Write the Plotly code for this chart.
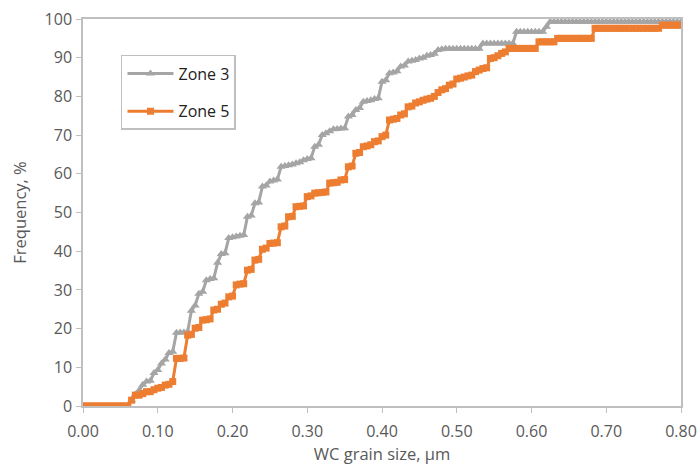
import plotly.graph_objects as go

GRAIN_SIZE = [
    0.000, 0.005, 0.010, 0.015, 0.020, 0.025, 0.030, 0.035, 0.040, 0.045,
    0.050, 0.055, 0.060, 0.065, 0.070, 0.075, 0.080, 0.085, 0.090, 0.095,
    0.100, 0.105, 0.110, 0.115, 0.120, 0.125, 0.130, 0.135, 0.140, 0.145,
    0.150, 0.155, 0.160, 0.165, 0.170, 0.175, 0.180, 0.185, 0.190, 0.195,
    0.200, 0.205, 0.210, 0.215, 0.220, 0.225, 0.230, 0.235, 0.240, 0.245,
    0.250, 0.255, 0.260, 0.265, 0.270, 0.275, 0.280, 0.285, 0.290, 0.295,
    0.300, 0.305, 0.310, 0.315, 0.320, 0.325, 0.330, 0.335, 0.340, 0.345,
    0.350, 0.355, 0.360, 0.365, 0.370, 0.375, 0.380, 0.385, 0.390, 0.395,
    0.400, 0.405, 0.410, 0.415, 0.420, 0.425, 0.430, 0.435, 0.440, 0.445,
    0.450, 0.455, 0.460, 0.465, 0.470, 0.475, 0.480, 0.485, 0.490, 0.495,
    0.500, 0.505, 0.510, 0.515, 0.520, 0.525, 0.530, 0.535, 0.540, 0.545,
    0.550, 0.555, 0.560, 0.565, 0.570, 0.575, 0.580, 0.585, 0.590, 0.595,
    0.600, 0.605, 0.610, 0.615, 0.620, 0.625, 0.630, 0.635, 0.640, 0.645,
    0.650, 0.655, 0.660, 0.665, 0.670, 0.675, 0.680, 0.685, 0.690, 0.695,
    0.700, 0.705, 0.710, 0.715, 0.720, 0.725, 0.730, 0.735, 0.740, 0.745,
    0.750, 0.755, 0.760, 0.765, 0.770, 0.775, 0.780, 0.785, 0.790, 0.795,
    0.800,
]

ZONE3 = [
    0, 0, 0, 0, 0, 0, 0, 0, 0, 0,
    0, 0, 0, 1.5, 3, 4, 5.5, 6.3, 6.5, 8.5,
    9.3, 11, 12, 13.7, 14, 18.9, 19, 19, 19.2, 24.6,
    26, 29, 29.5, 32.5, 32.8, 33, 37, 39.3, 39.5, 43.4,
    43.6, 43.8, 44, 44.2, 48.9, 49.2, 52.4, 52.6, 56.7, 57,
    58, 58.3, 58.5, 61.8, 62, 62.2, 62.4, 62.7, 63, 63.5,
    63.8, 64, 67, 67.5, 70, 70.5, 71, 71.5, 71.6, 71.7,
    71.8, 74.8, 75.2, 76.5, 77, 78.6, 78.8, 79, 79.3, 79.5,
    83.8, 84.2, 86, 86.2, 86.5, 87.7, 88, 89, 89.2, 89.4,
    89.8, 90, 90.5, 90.7, 91, 92, 92.2, 92.3, 92.3, 92.3,
    92.3, 92.3, 92.3, 92.3, 92.3, 92.3, 92.3, 93.7, 93.7, 93.7,
    93.7, 93.7, 93.7, 93.7, 93.7, 93.7, 96.7, 96.7, 96.7, 96.7,
    96.7, 96.7, 96.7, 96.7, 98, 99.3, 99.3, 99.3, 99.3, 99.3,
    99.3, 99.3, 99.3, 99.3, 99.3, 99.3, 99.3, 99.3, 99.3, 99.3,
    99.3, 99.3, 99.3, 99.3, 99.3, 99.3, 99.3, 99.3, 99.3, 99.3,
    99.3, 99.3, 99.3, 99.3, 99.3, 99.3, 99.3, 99.3, 99.3, 99.3,
    99.3,
]

ZONE5 = [
    0, 0, 0, 0, 0, 0, 0, 0, 0, 0,
    0, 0, 0, 1.5, 2.8, 2.8, 3.2, 3.7, 3.7, 4.2,
    4.6, 4.8, 5.4, 5.6, 6.3, 12.3, 12.3, 12.4, 18.3, 18.5,
    20.1, 20.3, 22.2, 22.3, 22.5, 24.8, 25, 26.3, 26.6, 28.2,
    28.4, 31.3, 31.5, 31.6, 35.1, 35.3, 37.7, 37.9, 40.5, 40.8,
    42, 42.1, 42.2, 46.3, 46.5, 48.9, 49, 51.5, 51.6, 51.7,
    54.1, 54.3, 55, 55.1, 55.2, 55.3, 57.6, 57.7, 57.8, 58.4,
    58.5, 61.8, 62, 65.3, 65.5, 67, 67.2, 67.5, 68.3, 68.5,
    69.6, 70, 73.9, 74.1, 74.3, 75.2, 75.5, 77.3, 77.5, 78.3,
    78.6, 79, 79.3, 79.5, 80, 81, 81.7, 82, 82.9, 83.2,
    84.5, 84.7, 85, 85.3, 85.5, 86.4, 86.8, 87.2, 87.4, 89.8,
    90, 90.5, 91.1, 91.5, 92.4, 92.4, 92.4, 92.4, 92.4, 92.4,
    92.4, 92.4, 94.1, 94.1, 94.1, 94.1, 94.1, 95, 95, 95,
    95, 95, 95, 95, 95, 95, 95, 97.6, 97.6, 97.6,
    97.6, 97.6, 97.6, 97.6, 97.6, 97.6, 97.6, 97.6, 97.6, 97.6,
    97.6, 97.6, 97.6, 97.6, 97.6, 98.4, 98.4, 98.4, 98.4, 98.4,
    98.4,
]

X_TICKS = [0.0, 0.1, 0.2, 0.3, 0.4, 0.5, 0.6, 0.7, 0.8]
X_TICK_LABELS = ["0.00", "0.10", "0.20", "0.30", "0.40", "0.50", "0.60", "0.70", "0.80"]
Y_TICKS = [0, 10, 20, 30, 40, 50, 60, 70, 80, 90, 100]

GRAY = "#A5A5A5"
ORANGE = "#ED7D31"
AXIS = "#BFBFBF"
TEXT = "#595959"
FONT = "Open Sans"

fig = go.Figure()
fig.add_trace(go.Scatter(
    x=GRAIN_SIZE, y=ZONE3, name="Zone 3", mode="lines+markers",
    line=dict(color=GRAY, width=3),
    marker=dict(symbol="triangle-up", size=8, color=GRAY),
    legendgroup="z3",
))
fig.add_trace(go.Scatter(
    x=GRAIN_SIZE, y=ZONE5, name="Zone 5", mode="lines+markers",
    line=dict(color=ORANGE, width=3),
    marker=dict(symbol="square", size=7, color=ORANGE),
    legendgroup="z5",
))

fig.update_layout(
    width=697, height=468,
    margin=dict(l=83, r=16, t=19, b=62, autoexpand=False),
    paper_bgcolor="white", plot_bgcolor="white",
    font=dict(family=FONT, color=TEXT, size=16),
    showlegend=True,
    legend=dict(
        x=0.0635, y=0.907, xanchor="left", yanchor="top",
        bgcolor="white", bordercolor=AXIS, borderwidth=1.5,
        font=dict(family=FONT, size=16, color="#222222"),
        tracegroupgap=14, itemwidth=46,
    ),
    xaxis=dict(
        range=[0, 0.8], tickvals=X_TICKS, ticktext=X_TICK_LABELS,
        showgrid=False, zeroline=False,
        showline=True, linecolor=AXIS, linewidth=1.5, mirror=True,
        ticks="outside", ticklen=5, tickcolor=AXIS, tickwidth=1,
        ticklabelstandoff=5,
        tickfont=dict(size=16, color=TEXT),
        title=dict(text="WC grain size, µm", font=dict(size=16.5, color=TEXT), standoff=7),
    ),
    yaxis=dict(
        range=[0, 100], tickvals=Y_TICKS,
        showgrid=False, zeroline=False,
        showline=True, linecolor=AXIS, linewidth=1.5, mirror=True,
        ticks="outside", ticklen=5, tickcolor=AXIS, tickwidth=1,
        ticklabelstandoff=1,
        tickfont=dict(size=16, color=TEXT),
        title=dict(text="Frequency, %", font=dict(size=16.5, color=TEXT), standoff=14),
    ),
)

fig.write_html(
    "out.html",
    config={"displayModeBar": False},
    post_script="document.body.style.margin='0px';",
)
